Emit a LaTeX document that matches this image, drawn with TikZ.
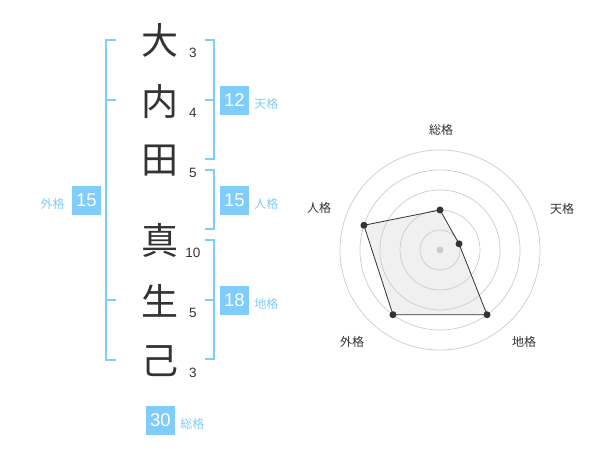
\documentclass[tikz,border=0pt]{standalone}
\usepackage{fontspec}
\setmainfont{Liberation Sans}
\newfontfamily\jp{Noto Sans CJK JP}
\usetikzlibrary{positioning}
\definecolor{sky}{RGB}{128,204,250}
\definecolor{ink}{RGB}{51,51,51}
\definecolor{web}{RGB}{240,240,240}
\tikzset{
  kanji/.style = {text = ink, inner sep = 0pt, font = \jp\fontsize{37pt}{40pt}\selectfont},
  strokes/.style = {text = ink, inner sep = 0pt, font = \fontsize{13.5pt}{15pt}\selectfont},
  numbox/.style = {fill = sky, text = white, inner sep = 0pt, minimum size = 29pt, font = \fontsize{18.5pt}{20pt}\selectfont},
  kakuname/.style = {text = sky, inner sep = 0pt, font = \jp\fontsize{12pt}{14pt}\selectfont},
  brace/.style = {draw = sky, line width = 2pt, line join = miter},
  ring/.style = {draw = black!20, line width = 0.7pt},
  hub/.style = {circle, fill = black!20, inner sep = 0pt, minimum size = 7pt},
  dot/.style = {circle, fill = ink, inner sep = 0pt, minimum size = 7pt},
  axislbl/.style = {text = ink, inner sep = 0pt, font = \jp\fontsize{12pt}{14pt}\selectfont}
}
\begin{document}
\begin{tikzpicture}[x = 1pt, y = -1pt]
	\useasboundingbox (0,0) rectangle (600,470);
	\node [kanji] (c1) at (160,40) {大};
	\node [kanji] (c2) at (160,101) {内};
	\node [kanji] (c3) at (160,161) {田};
	\node [kanji] (c4) at (160,240) {真};
	\node [kanji] (c5) at (160,301) {生};
	\node [kanji] (c6) at (160,361) {己};
	\node [strokes] (s1) at (193,53) {3};
	\node [strokes] (s2) at (193,113) {4};
	\node [strokes] (s3) at (193,173) {5};
	\node [strokes] (s4) at (193,253) {10};
	\node [strokes] (s5) at (193,313) {5};
	\node [strokes] (s6) at (193,373) {3};
	%
	\draw [brace] (116,40) -| (106,360) -- (116,360) (106,100) -- (116,100) (106,300) -- (116,300);
	\draw [brace] (205,40) -| (214,159) -- (205,159) (205,100) -- (214,100);
	\draw [brace] (205,170) -| (214,229) -- (205,229);
	\draw [brace] (205,240) -| (214,359) -- (205,359) (205,300) -- (214,300);
	%
	\node [numbox] (ten) at (234.5,100.5) {12};
	\node [kakuname, right = 5pt of ten, yshift = -3pt] (tenl) {天格};
	\node [numbox] (jin) at (234.5,200.5) {15};
	\node [kakuname, right = 5pt of jin, yshift = -3pt] (jinl) {人格};
	\node [numbox] (chi) at (234.5,300.5) {18};
	\node [kakuname, right = 5pt of chi, yshift = -3pt] (chil) {地格};
	\node [numbox] (gai) at (86.5,200.5) {15};
	\node [kakuname, left = 7pt of gai, yshift = -3pt] (gail) {外格};
	\node [numbox] (sou) at (160.5,420.5) {30};
	\node [kakuname, right = 5pt of sou, yshift = -3pt] (soul) {総格};
	%
	\begin{scope}[shift = {(440,250)}]
		\coordinate (p1) at (90:40pt);
		\coordinate (p2) at (18:20pt);
		\coordinate (p3) at (-54:80pt);
		\coordinate (p4) at (-126:80pt);
		\coordinate (p5) at (162:80pt);
		\fill [web] (p1) -- (p2) -- (p3) -- (p4) -- (p5) -- cycle;
		\draw [ring] (0,0) circle (20pt) circle (40pt) circle (60pt) circle (80pt) circle (100pt);
		\node [hub] (o) at (0,0) {};
		\draw [ink, line width = 0.8pt] (p1) -- (p2) -- (p3) -- (p4) -- (p5) -- cycle;
		\node [dot] (d1) at (p1) {};
		\node [dot] (d2) at (p2) {};
		\node [dot] (d3) at (p3) {};
		\node [dot] (d4) at (p4) {};
		\node [dot] (d5) at (p5) {};
	\end{scope}
	\node [axislbl] (l1) at (441,130) {総格};
	\node [axislbl] (l2) at (562,209) {天格};
	\node [axislbl] (l3) at (524,342) {地格};
	\node [axislbl] (l4) at (352,342) {外格};
	\node [axislbl] (l5) at (319,208) {人格};
\end{tikzpicture}
\end{document}
